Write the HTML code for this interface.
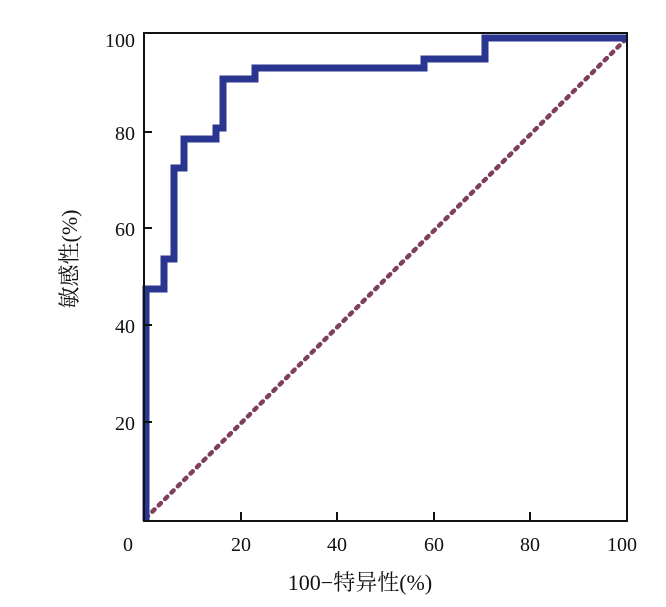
<!DOCTYPE html><html><head><meta charset="utf-8"><style>body{margin:0;background:#fff}svg{display:block}text{font-family:"Liberation Serif","Noto Serif CJK SC",serif;font-size:20px;fill:#111}</style></head><body>
<svg width="666" height="607" viewBox="0 0 666 607">
<polyline points="146,518 627,38" fill="none" stroke="#7d3f5c" stroke-width="4.5" stroke-dasharray="3 6" stroke-linecap="round"/>
<polyline points="146,521 146,289 164,289 164,259 174,259 174,168 184,168 184,139 216,139 216,128 223,128 223,79 255,79 255,68 424,68 424,59 485,59 485,38 627,38" fill="none" stroke="#2a3590" stroke-width="7" stroke-linejoin="miter"/>
<path d="M144,33 V521 H627 V33 Z" fill="none" stroke="#111" stroke-width="2"/>
<g stroke="#111" stroke-width="2"><line x1="144" y1="132" x2="152" y2="132"/><line x1="144" y1="228" x2="152" y2="228"/><line x1="144" y1="325" x2="152" y2="325"/><line x1="144" y1="422" x2="152" y2="422"/>
<line x1="241" y1="521" x2="241" y2="512"/><line x1="337" y1="521" x2="337" y2="512"/><line x1="434" y1="521" x2="434" y2="512"/><line x1="530" y1="521" x2="530" y2="512"/></g>
<g text-anchor="end"><text x="135" y="47">100</text><text x="135" y="140">80</text><text x="135" y="236">60</text><text x="135" y="333">40</text><text x="135" y="430">20</text></g>
<g text-anchor="middle"><text x="128" y="551">0</text><text x="241" y="551">20</text><text x="337" y="551">40</text><text x="434" y="551">60</text><text x="530" y="551">80</text><text x="622" y="551">100</text>
<text x="360" y="590" style="font-size:22px">100−特异性(%)</text>
<text transform="translate(77,259) rotate(-90)" style="font-size:22px">敏感性(%)</text></g>
</svg></body></html>
